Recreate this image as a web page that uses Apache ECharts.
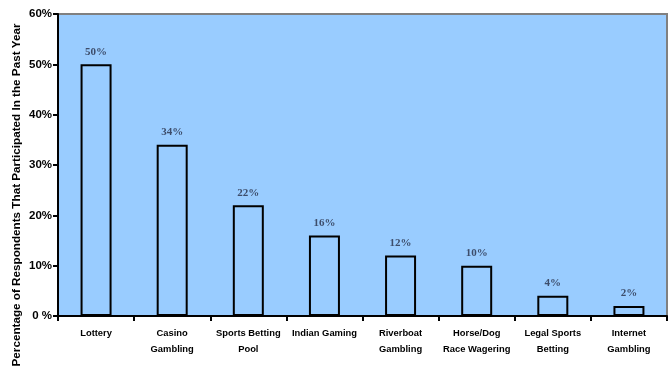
<!DOCTYPE html>
<html>
<head>
<meta charset="utf-8">
<script src="https://cdn.jsdelivr.net/npm/echarts@6/dist/echarts.min.js"></script>
<style>
  html, body { margin: 0; padding: 0; background: #fff; }
  #chart { width: 672px; height: 368px; }
</style>
</head>
<body>
<div id="chart"></div>
<script>
// Gambling activities and share of respondents who took part in the past year
const categories = [
  'Lottery', 'Casino\nGambling', 'Sports Betting\nPool', 'Indian Gaming',
  'Riverboat\nGambling', 'Horse/Dog\nRace Wagering', 'Legal Sports\nBetting', 'Internet\nGambling'
];
const participation = [50, 34, 22, 16, 12, 10, 4, 2];
const yTickLabels = ['0 %', '10%', '20%', '30%', '40%', '50%', '60%'];
const yAxisTitle = 'Percentage of Respondents That Participated In the Past Year';

const sans = '"Liberation Sans", Arial, sans-serif';

const chart = echarts.init(document.getElementById('chart'));
chart.setOption({
  animation: false,
  backgroundColor: '#ffffff',
  grid: {
    left: 58, right: 5, top: 14, bottom: 52,
    show: true, backgroundColor: '#99CCFF', borderColor: '#808080', borderWidth: 2
  },
  graphic: [{
    type: 'text',
    x: 17,
    y: 195,
    rotation: Math.PI / 2,
    style: {
      text: yAxisTitle,
      font: 'bold 11.7px ' + sans,
      fill: '#000',
      align: 'center',
      verticalAlign: 'middle'
    }
  }],
  xAxis: {
    type: 'category',
    data: categories,
    axisLine: { lineStyle: { color: '#000', width: 2 } },
    axisTick: { show: true, length: 5, lineStyle: { color: '#000', width: 2 } },
    axisLabel: {
      color: '#000', fontFamily: sans,
      fontWeight: 'bold', fontSize: 9.4, lineHeight: 16, margin: 9, interval: 0
    }
  },
  yAxis: {
    type: 'value',
    min: 0, max: 60, interval: 10,
    splitLine: { show: false },
    axisLine: { show: true, lineStyle: { color: '#000', width: 2 } },
    axisTick: { show: true, length: 5, lineStyle: { color: '#000', width: 2 } },
    axisLabel: {
      color: '#000', fontFamily: sans,
      fontWeight: 'bold', fontSize: 11.5, margin: 6,
      formatter: v => yTickLabels[v / 10]
    }
  },
  series: [{
    type: 'bar',
    data: participation,
    barWidth: 31,
    itemStyle: { color: '#99CCFF', borderColor: '#000', borderWidth: 2 },
    label: {
      show: true, position: 'top', distance: 7,
      formatter: p => p.value + '%',
      fontFamily: '"Liberation Serif", "Times New Roman", serif',
      fontWeight: 'bold', fontSize: 11, color: '#3d4d6b'
    }
  }]
});
</script>
</body>
</html>
